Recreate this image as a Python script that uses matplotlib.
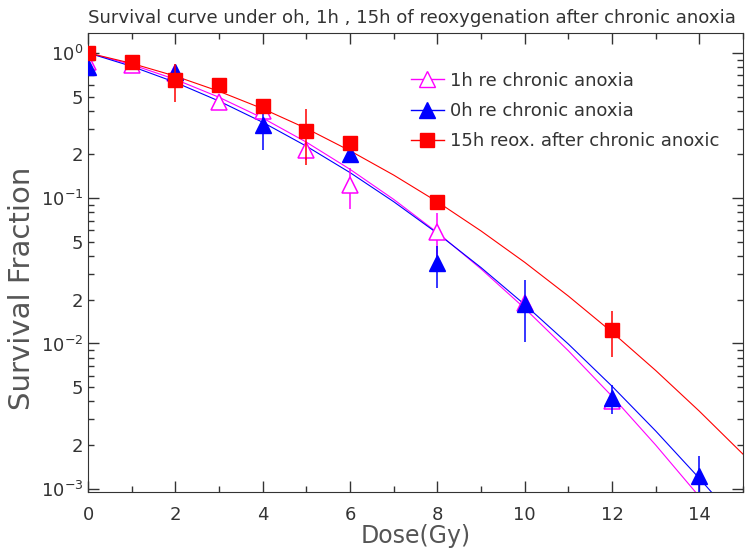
import matplotlib
matplotlib.use("Agg")
import matplotlib.pyplot as plt
import numpy as np
from matplotlib.ticker import LogLocator, FuncFormatter, MultipleLocator

# measured points (dose in Gy, survival fraction, error)
dose_1h = [0, 1, 2, 3, 4, 5, 6, 8, 10, 12]
sf_1h = [0.86, 0.83, 0.73, 0.46, 0.40, 0.214, 0.123, 0.0585, 0.019, 0.0040]
err_1h = [0, 0, 0, 0, 0, 0.03, 0.039, 0.02, 0, 0.0004]

dose_0h = [0, 2, 4, 6, 8, 10, 12, 14]
sf_0h = [0.80, 0.74, 0.319, 0.203, 0.0356, 0.0187, 0.00423, 0.00122]
err_0h = [0, 0, 0.105, 0, 0.0116, 0.0085, 0.00095, 0.00046]

dose_15h = [0, 1, 2, 3, 4, 5, 6, 8, 12]
sf_15h = [1.0, 0.867, 0.651, 0.60, 0.431, 0.29, 0.24, 0.0945, 0.0124]
err_15h = [0, 0, 0.19, 0, 0, 0.12, 0, 0, 0.0043]

# fitted curves at each Gy
fit_dose = list(range(16))
fit_1h = [1.0, 0.831, 0.657, 0.495, 0.356, 0.243, 0.158, 0.0981, 0.0580, 0.0326,
          0.01746, 0.00891, 0.00433, 0.00200, 0.000883, 0.000371]
fit_0h = [1.0, 0.808, 0.627, 0.466, 0.333, 0.228, 0.150, 0.0946, 0.0573, 0.0333,
          0.01853, 0.00991, 0.00508, 0.00250, 0.00118, 0.000536]
fit_15h = [1.0, 0.847, 0.692, 0.544, 0.413, 0.302, 0.212, 0.1442, 0.0944, 0.0595,
           0.0362, 0.0212, 0.01197, 0.00652, 0.00342, 0.00173]

labels = ["1h re chronic anoxia", "0h re chronic anoxia", "15h reox. after chronic anoxic"]
title = "Survival curve under oh, 1h , 15h of reoxygenation after chronic anoxia"

plt.rcParams['font.family'] = ['DejaVu Sans']
txt = '#333333'

fig = plt.figure(figsize=(7.46, 5.55), dpi=100)
ax = fig.add_axes([0.118, 0.1135, 0.878, 0.827])

ax.plot(fit_dose, fit_1h, color='#ff00ff', lw=0.8, zorder=2)
ax.plot(fit_dose, fit_0h, color='#0000ff', lw=0.8, zorder=2)
ax.plot(fit_dose, fit_15h, color='#ff0000', lw=0.8, zorder=2)

ax.errorbar(dose_1h, sf_1h, yerr=err_1h, fmt='^', ms=11, mfc='white', mec='#ff00ff',
            mew=1.1, ecolor='#ff00ff', elinewidth=1.1, capsize=0, zorder=3)
ax.errorbar(dose_0h, sf_0h, yerr=err_0h, fmt='^', ms=11, color='#0000ff',
            ecolor='#0000ff', elinewidth=1.1, capsize=0, zorder=4)
ax.errorbar(dose_15h, sf_15h, yerr=err_15h, fmt='s', ms=10, color='#ff0000',
            ecolor='#ff0000', elinewidth=1.1, capsize=0, zorder=5)

ax.set_yscale('log')
ax.set_xlim(0, 15)
ax.set_ylim(0.00095, 1.37)

ax.xaxis.set_major_locator(MultipleLocator(2))
ax.xaxis.set_minor_locator(MultipleLocator(1))
ax.yaxis.set_major_locator(LogLocator(base=10, numticks=10))
ax.yaxis.set_minor_locator(LogLocator(base=10, subs=np.arange(2, 10), numticks=20))


def minor_fmt(v, pos):
    m = v / 10 ** np.floor(np.log10(v) + 1e-9)
    if abs(m - 2) < 0.01:
        return '2'
    if abs(m - 5) < 0.01:
        return '5'
    return ''


ax.yaxis.set_minor_formatter(FuncFormatter(minor_fmt))
ax.tick_params(which='both', direction='in', top=True, right=True,
               labelsize=13, colors='#333333', labelcolor=txt)
ax.tick_params(which='major', length=8, width=1)
ax.tick_params(which='minor', length=4.5, width=1)
ax.tick_params(axis='x', pad=10)
for s in ax.spines.values():
    s.set_color('#333333')

ax.set_xlabel('Dose(Gy)', fontsize=17, color='#555555', labelpad=0)
ax.set_ylabel('Survival Fraction', fontsize=21, color='#555555')
ax.yaxis.set_label_coords(-0.08, 0.444)
fig.text(0.118, 0.967, title, fontsize=13.1, color=txt, ha='left', va='center')

h1 = ax.plot([], [], color='#ff00ff', lw=1, marker='^', ms=11, mfc='white', mec='#ff00ff')[0]
h2 = ax.plot([], [], color='#0000ff', lw=1, marker='^', ms=11)[0]
h3 = ax.plot([], [], color='#ff0000', lw=1, marker='s', ms=10)[0]
fig.legend([h1, h2, h3], labels, loc='upper left', bbox_to_anchor=(0.539, 0.887),
           frameon=False, fontsize=13, handlelength=1.8, handletextpad=0.35,
           labelspacing=0.68, borderpad=0, labelcolor=txt)

fig.savefig('out.png', dpi=100)
